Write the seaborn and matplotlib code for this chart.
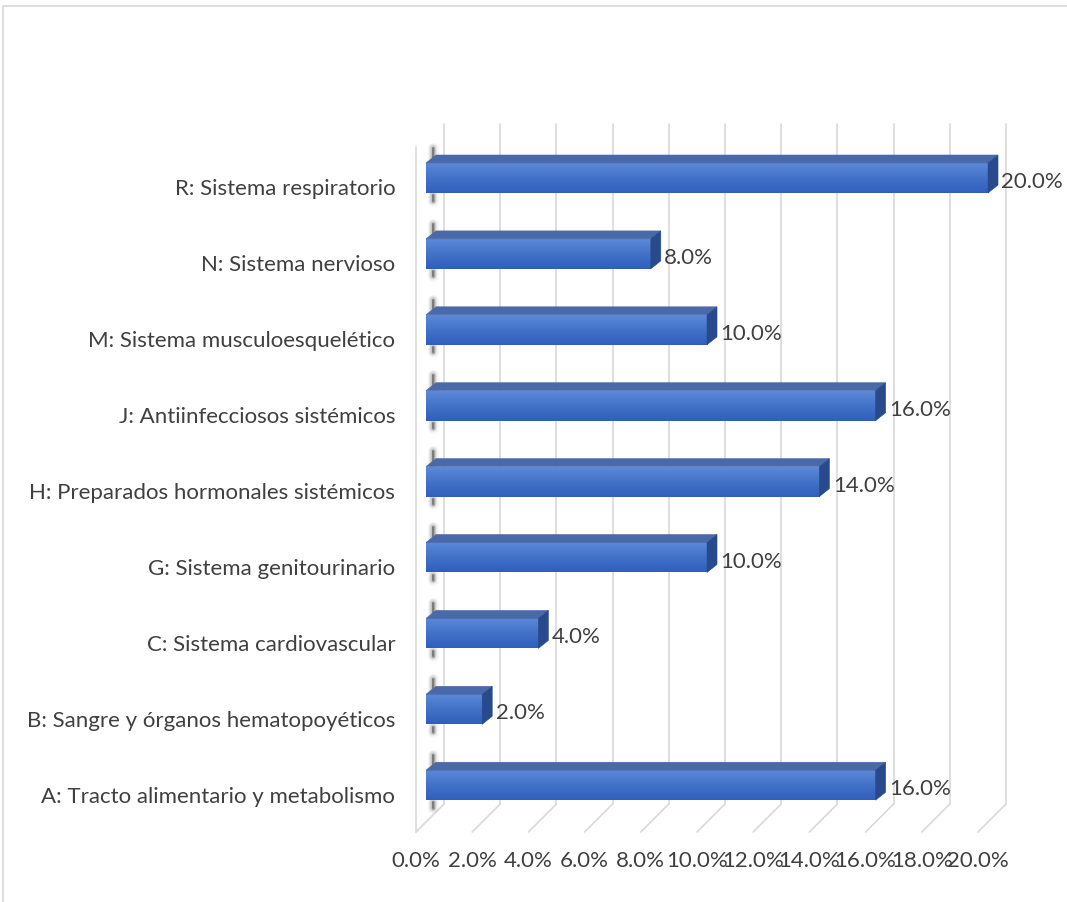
import numpy as np
import pandas as pd
import matplotlib
matplotlib.use("Agg")
import matplotlib.pyplot as plt
from matplotlib.patches import Polygon, Rectangle
from matplotlib.colors import LinearSegmentedColormap
import seaborn as sns

categories = [
    "R: Sistema respiratorio",
    "N: Sistema nervioso",
    "M: Sistema musculoesquelético",
    "J: Antiinfecciosos sistémicos",
    "H: Preparados hormonales sistémicos",
    "G: Sistema genitourinario",
    "C: Sistema cardiovascular",
    "B: Sangre y órganos hematopoyéticos",
    "A: Tracto alimentario y metabolismo",
]
values = [20.0, 8.0, 10.0, 16.0, 14.0, 10.0, 4.0, 2.0, 16.0]
tick_values = np.arange(0, 21, 2)

df = pd.DataFrame({"grupo": categories, "pct": values})

sns.set_theme(style="white")
plt.rcParams["font.family"] = ["Lato", "DejaVu Sans"]
TEXT = "#404040"
GRID = "#D9D9D9"
FS = 16

fig = plt.figure(figsize=(10.67, 9.03), dpi=100)
W, H = 1067, 903
ax = fig.add_axes([416 / W, (H - 833) / H, (1006 - 416) / W, (833 - 125) / H])

bar_h = 0.395
sns.barplot(data=df, x="pct", y="grupo", order=categories, orient="h",
            width=bar_h, color="#4472C4", saturation=1, ax=ax, zorder=3,
            linewidth=0)

# pseudo-3D geometry (data units)
front_shift = 0.356   # floor front edge offset to the left of bar front
back_shift = 0.64     # back wall offset to the right of bar front
dx, dy = 0.356, -0.105
floor_back = 8.248
y_top, y_bot = -0.711, 8.617

ax.set_xlim(-front_shift, 20 + back_shift)
ax.set_ylim(y_bot, y_top)

# back wall + floor gridlines
for v in tick_values:
    ax.plot([v + back_shift, v + back_shift], [y_top, floor_back],
            color=GRID, lw=1.2, zorder=1, clip_on=False)
    ax.plot([v + back_shift, v - front_shift], [floor_back, y_bot],
            color=GRID, lw=1.2, zorder=1, clip_on=False)
# left wall front edge
ax.plot([-front_shift, -front_shift], [-0.41, y_bot], color=GRID, lw=1.2,
        zorder=1, clip_on=False)

# vertical gradient for the front faces
grad = np.linspace(0, 1, 256).reshape(-1, 1)
cmap = LinearSegmentedColormap.from_list("face", ["#5D89D8", "#4272C8", "#2F5EBD"])

for patch, v in zip(ax.patches, values):
    x0 = patch.get_x()
    w = patch.get_width()
    yc = patch.get_y() + patch.get_height() / 2
    yt = yc - bar_h / 2
    yb = yc + bar_h / 2
    # soft shadow marks at the bar root
    for lw, a in [(8, 0.04), (6, 0.07), (4, 0.12), (2.5, 0.22), (1.3, 0.35)]:
        ax.plot([0.25, 0.25], [yt - 0.2, yt - 0.03], color="#202020", lw=lw,
                alpha=a, zorder=2, solid_capstyle="round")
        ax.plot([0.25, 0.25], [yb + 0.03, yb + 0.1], color="#202020", lw=lw,
                alpha=a, zorder=2, solid_capstyle="round")
    im = ax.imshow(grad, extent=[x0, x0 + w, yb, yt], cmap=cmap, aspect="auto",
                   zorder=4, interpolation="bicubic")
    im.set_clip_path(patch)
    top = Polygon([(x0, yt), (x0 + w, yt), (x0 + w + dx, yt + dy), (x0 + dx, yt + dy)],
                  closed=True, fc="#4A69A9", ec="#4A69A9", lw=0.4, zorder=4)
    side = Polygon([(x0 + w, yt), (x0 + w + dx, yt + dy), (x0 + w + dx, yb + dy), (x0 + w, yb)],
                   closed=True, fc="#284A8C", ec="#284A8C", lw=0.4, zorder=4)
    ax.add_patch(top)
    ax.add_patch(side)
    ax.text(x0 + w + dx + 0.12, yc + 0.04, f"{v:.1f}%", ha="left", va="center",
            fontsize=FS, color=TEXT, zorder=5)

ax.set_xlim(-front_shift, 20 + back_shift)
ax.set_ylim(y_bot, y_top)

ax.set_yticks(np.arange(len(categories)) + 0.11)
ax.set_yticklabels(categories, fontsize=FS, color=TEXT)
ax.set_xticks(tick_values - front_shift)
ax.set_xticklabels([f"{v:.1f}%" for v in tick_values], fontsize=FS, color=TEXT)
ax.tick_params(axis="y", length=0, pad=15)
ax.tick_params(axis="x", length=0, pad=13)
ax.set_xlabel("")
ax.set_ylabel("")
for s in ax.spines.values():
    s.set_visible(False)
ax.patch.set_alpha(0)

fig.add_artist(Rectangle((3 / W, -0.05), 1.2, (H - 7) / H + 0.05,
                         transform=fig.transFigure, fill=False, ec=GRID, lw=1.2))

fig.savefig("out.png", dpi=100, facecolor="white")
